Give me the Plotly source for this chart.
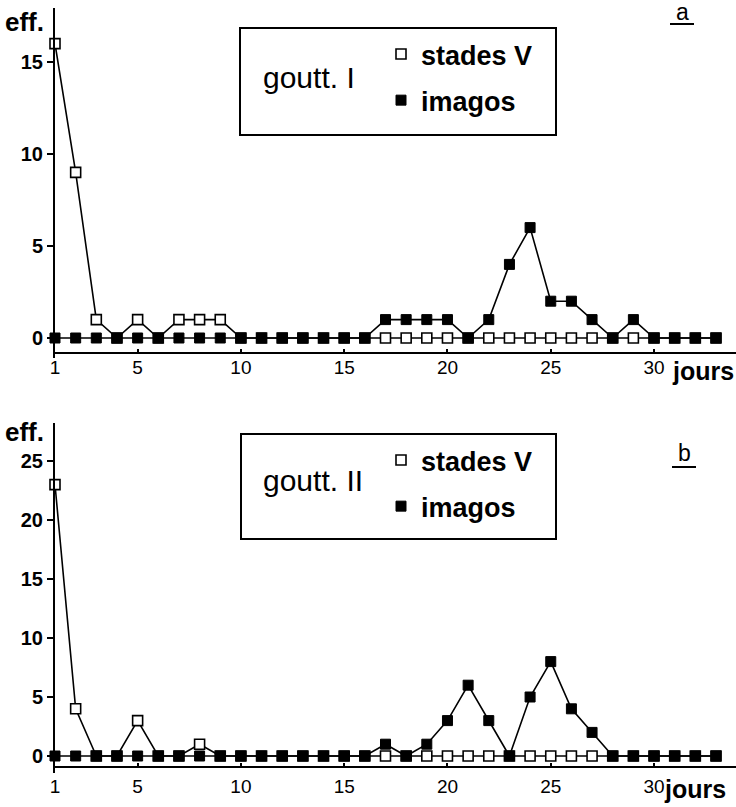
import plotly.graph_objects as go

# ---------------- data ----------------
days = list(range(1, 34))

# panel a  (goutt. I)
a_stades = [16, 9, 1, 0, 1, 0, 1, 1, 1, 0, 0, 0, 0, 0, 0, 0, 0, 0, 0, 0,
            0, 0, 0, 0, 0, 0, 0, 0, 0, 0, 0, 0, 0]
a_imagos = [0, 0, 0, 0, 0, 0, 0, 0, 0, 0, 0, 0, 0, 0, 0, 0, 1, 1, 1, 1,
            0, 1, 4, 6, 2, 2, 1, 0, 1, 0, 0, 0, 0]

# panel b  (goutt. II)
b_stades = [23, 4, 0, 0, 3, 0, 0, 1, 0, 0, 0, 0, 0, 0, 0, 0, 0, 0, 0, 0,
            0, 0, 0, 0, 0, 0, 0, 0, 0, 0, 0, 0, 0]
b_imagos = [0, 0, 0, 0, 0, 0, 0, 0, 0, 0, 0, 0, 0, 0, 0, 0, 1, 0, 1, 3,
            6, 3, 0, 5, 8, 4, 2, 0, 0, 0, 0, 0, 0]

x_ticks = [1, 5, 10, 15, 20, 25, 30]
a_yticks = [0, 5, 10, 15]
b_yticks = [0, 5, 10, 15, 20, 25]
series_names = ["stades V", "imagos"]
panel_titles = ["goutt. I", "goutt. II"]
panel_letters = ["a", "b"]

# ---------------- geometry helpers ----------------
W, H = 736, 807
def X(px):
    return px / W
def Y(py):
    return 1 - py / H

FONT = "Liberation Sans, Arial, sans-serif"

fig = go.Figure()

def add_panel(stades, imagos, xa, ya, legend):
    fig.add_trace(go.Scatter(x=days, y=stades, mode="lines", xaxis=xa, yaxis=ya,
                             line=dict(color="black", width=1.6), showlegend=False,
                             hoverinfo="skip"))
    fig.add_trace(go.Scatter(x=days, y=imagos, mode="lines", xaxis=xa, yaxis=ya,
                             line=dict(color="black", width=1.6), showlegend=False,
                             hoverinfo="skip"))
    fig.add_trace(go.Scatter(x=days, y=stades, mode="markers", xaxis=xa, yaxis=ya,
                             name=series_names[0], legend=legend, legendgroup=legend + "s",
                             marker=dict(symbol="square", size=10, color="white",
                                         line=dict(color="black", width=1.6)),
                             cliponaxis=False))
    fig.add_trace(go.Scatter(x=days, y=imagos, mode="markers", xaxis=xa, yaxis=ya,
                             name=series_names[1], legend=legend, legendgroup=legend + "i",
                             marker=dict(symbol="square", size=10, color="black",
                                         line=dict(color="black", width=1)),
                             cliponaxis=False))

add_panel(a_stades, a_imagos, "x", "y", "legend")
add_panel(b_stades, b_imagos, "x2", "y2", "legend2")

day_px = (716 - 55) / 32.0
x_range = [1, 1 + (W - 55) / day_px]

common_x = dict(range=x_range, domain=[X(55), 1.0], anchor="free", showline=True,
                linecolor="black", linewidth=2, showgrid=False, zeroline=False,
                tickmode="array", tickvals=x_ticks, ticks="inside", ticklen=3,
                tickwidth=1.5, tickcolor="black", automargin=False,
                tickfont=dict(family=FONT, size=19, color="black"))
common_y = dict(showline=True, linecolor="black", linewidth=2, showgrid=False,
                zeroline=False, tickmode="array", ticks="outside", ticklen=6,
                tickwidth=1.5, tickcolor="black", automargin=False,
                tickfont=dict(family=FONT, size=20, color="black", weight="bold"))

# panel a: y0 at px 338, 18.4 px/unit, axis from px 8 to 358
a_y0, a_s = 338, 18.4
# panel b: y0 at px 756, 11.8 px/unit, axis from px 423 to 773
b_y0, b_s = 756, 11.8

fig.update_layout(
    width=W, height=H, margin=dict(l=0, r=0, t=0, b=0, autoexpand=False),
    paper_bgcolor="white", plot_bgcolor="white",
    xaxis=dict(common_x, position=Y(353), ticklabelstandoff=-3),
    yaxis=dict(common_y, anchor="x", domain=[Y(358), Y(8)],
               range=[-(358 - a_y0) / a_s, (a_y0 - 8) / a_s], tickvals=a_yticks),
    xaxis2=dict(common_x, position=Y(767), ticklabelstandoff=2),
    yaxis2=dict(common_y, anchor="x2", domain=[Y(773), Y(423)],
                range=[-(773 - b_y0) / b_s, (b_y0 - 423) / b_s], tickvals=b_yticks),
    legend=dict(x=X(381), y=Y(30), xanchor="left", yanchor="top",
                bgcolor="rgba(0,0,0,0)", borderwidth=0, tracegroupgap=8,
                font=dict(family=FONT, size=27, color="black", weight="bold")),
    legend2=dict(x=X(381), y=Y(436), xanchor="left", yanchor="top",
                 bgcolor="rgba(0,0,0,0)", borderwidth=0, tracegroupgap=8,
                 font=dict(family=FONT, size=27, color="black", weight="bold")),
    showlegend=True,
)

shapes = []
annotations = []
for (box, title_y, letter_xy, underline_y, eff_y, jours_xy, title) in [
    ((240, 28, 556, 135), 77, (682, 12), 24, 22, (736, 371), panel_titles[0]),
    ((241, 434, 556, 539), 481, (684, 452), 467, 432, (728, 789), panel_titles[1]),
]:
    x0, y0, x1, y1 = box
    shapes.append(dict(type="rect", xref="paper", yref="paper",
                       x0=X(x0), x1=X(x1), y0=Y(y1), y1=Y(y0),
                       line=dict(color="black", width=2), fillcolor="rgba(0,0,0,0)",
                       layer="below"))
    annotations.append(dict(text=title, xref="paper", yref="paper", x=X(261), y=Y(title_y),
                            xanchor="left", yanchor="middle", showarrow=False,
                            font=dict(family=FONT, size=30, color="black")))
    annotations.append(dict(text="eff.", xref="paper", yref="paper", x=X(3), y=Y(eff_y),
                            xanchor="left", yanchor="middle", showarrow=False,
                            font=dict(family=FONT, size=26, color="black", weight="bold")))
    annotations.append(dict(text="jours", xref="paper", yref="paper", x=X(jours_xy[0]),
                            y=Y(jours_xy[1]),
                            xanchor="right", yanchor="middle", showarrow=False,
                            font=dict(family=FONT, size=25, color="black", weight="bold")))
    shapes.append(dict(type="line", xref="paper", yref="paper",
                       x0=X(letter_xy[0] - 12), x1=X(letter_xy[0] + 12),
                       y0=Y(underline_y), y1=Y(underline_y),
                       line=dict(color="black", width=2)))
    # small extension of the y axis below the x axis
    shapes.append(dict(type="line", xref="paper", yref="paper",
                       x0=X(55), x1=X(55), y0=Y(y1 + 0), y1=Y(y1)))

shapes = [s for s in shapes if not (s["type"] == "line" and s["x0"] == s["x1"])]

annotations.append(dict(text=panel_letters[0], xref="paper", yref="paper", x=X(682), y=Y(12),
                        xanchor="center", yanchor="middle", showarrow=False,
                        font=dict(family=FONT, size=23, color="black")))
annotations.append(dict(text=panel_letters[1], xref="paper", yref="paper", x=X(684), y=Y(453),
                        xanchor="center", yanchor="middle", showarrow=False,
                        font=dict(family=FONT, size=23, color="black")))

fig.update_layout(shapes=shapes, annotations=annotations)

fig.write_html("out.html", config={"displayModeBar": False},
               post_script="document.body.style.margin='0px';")
